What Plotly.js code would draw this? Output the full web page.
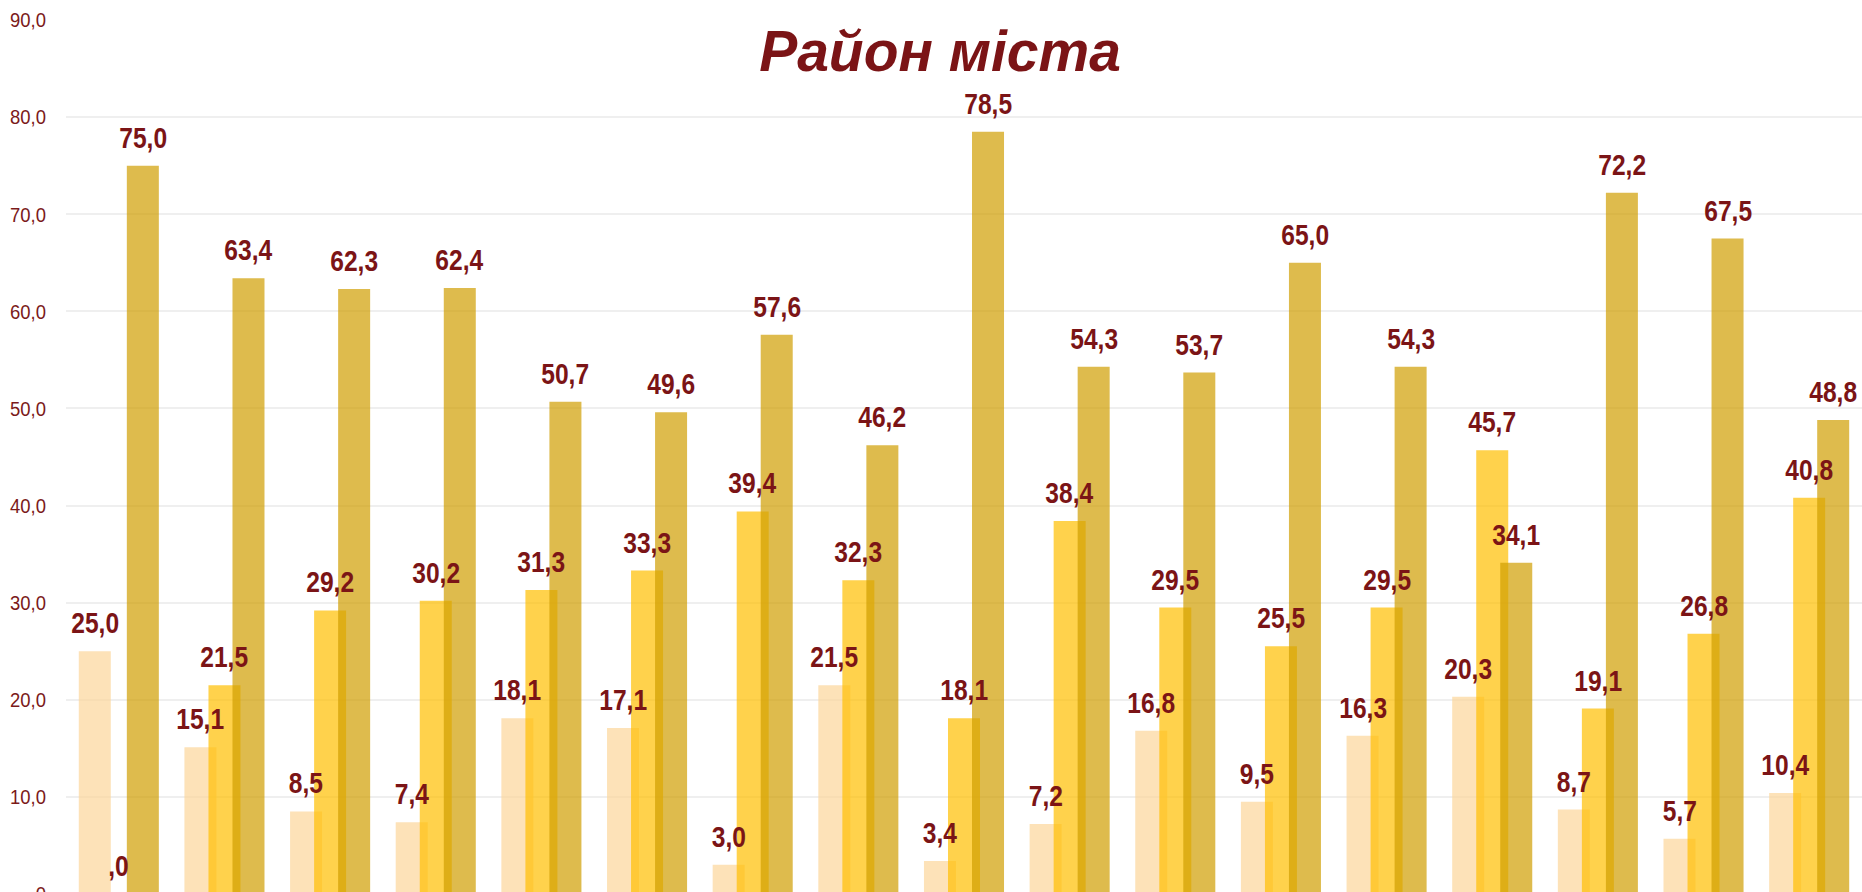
<!DOCTYPE html>
<html>
<head>
<meta charset="utf-8">
<script src="https://cdn.plot.ly/plotly-3.0.1.min.js"></script>
<style>
html,body{margin:0;padding:0;overflow:hidden;background:#fff;}
#chart{width:1862px;height:940px;}
#chart text.annotation-text{transform:scaleX(0.82);transform-box:fill-box;transform-origin:center;}
#chart g.ytick{transform:scaleX(0.88);transform-box:fill-box;transform-origin:right center;}
</style>
</head>
<body>
<div id="chart"></div>
<script>
const categories = ["1","2","3","4","5","6","7","8","9","10","11","12","13","14","15","16","17"];
const series1 = [25.0, 15.1, 8.5, 7.4, 18.1, 17.1, 3.0, 21.5, 3.4, 7.2, 16.8, 9.5, 16.3, 20.3, 8.7, 5.7, 10.4];
const series2 = [0.0, 21.5, 29.2, 30.2, 31.3, 33.3, 39.4, 32.3, 18.1, 38.4, 29.5, 25.5, 29.5, 45.7, 19.1, 26.8, 40.8];
const series3 = [75.0, 63.4, 62.3, 62.4, 50.7, 49.6, 57.6, 46.2, 78.5, 54.3, 53.7, 65.0, 54.3, 34.1, 72.2, 67.5, 48.8];
const tickVals = [0, 10, 20, 30, 40, 50, 60, 70, 80, 90];
const tickText = [",0", "10,0", "20,0", "30,0", "40,0", "50,0", "60,0", "70,0", "80,0", "90,0"];
const titleText = "Район міста";

const fmt = v => v === 0 ? ",0" : v.toFixed(1).replace(".", ",");
const SANS = "'Liberation Sans', Arial, sans-serif";

const BW = 0.303;
const specs = [
  {y: series1, color: "rgb(252,214,154)", offset: -0.379, shift: -24},
  {y: series2, color: "rgb(255,191,0)", offset: -0.1515, shift: 0},
  {y: series3, color: "rgb(208,158,2)", offset: 0.0758, shift: 24}
];

const traces = specs.map((s, i) => ({
  type: "bar",
  x: categories,
  y: s.y,
  width: BW,
  offset: s.offset,
  marker: {color: s.color, opacity: 0.7, line: {width: 0}},
  name: "s" + (i + 1),
  hoverinfo: "skip"
}));

const labelColor = "#7B1416";
const annotations = [];
specs.forEach(s => {
  s.y.forEach((v, j) => {
    annotations.push({
      x: j, y: v, xref: "x", yref: "y",
      xshift: s.shift, yshift: 10,
      text: fmt(v), showarrow: false,
      xanchor: "center", yanchor: "bottom",
      font: {family: SANS, size: 30, weight: "bold", color: labelColor}
    });
  });
});

const layout = {
  width: 1862, height: 940,
  margin: {l: 66, r: 0, t: 20, b: 46, pad: 0},
  paper_bgcolor: "#ffffff", plot_bgcolor: "#ffffff",
  barmode: "overlay",
  showlegend: false,
  title: {
    text: titleText,
    x: 940 / 1862, xref: "container", xanchor: "center",
    y: 1 - 51 / 940, yref: "container", yanchor: "middle",
    font: {family: SANS, size: 57, weight: "bold", style: "italic", color: labelColor}
  },
  xaxis: {
    type: "category",
    range: [-0.5, 16.5],
    showticklabels: false, ticks: "", showgrid: false, zeroline: false, showline: false
  },
  yaxis: {
    range: [0, 90],
    tickvals: tickVals, ticktext: tickText,
    showgrid: true, gridcolor: "#EFEFEF", gridwidth: 2,
    zeroline: false, showline: false, ticks: "",
    ticklabelstandoff: 19,
    tickfont: {family: SANS, size: 21, color: "#7B1A1A"}
  },
  annotations: annotations
};

Plotly.newPlot("chart", traces, layout, {staticPlot: true, displayModeBar: false});
</script>
</body>
</html>
